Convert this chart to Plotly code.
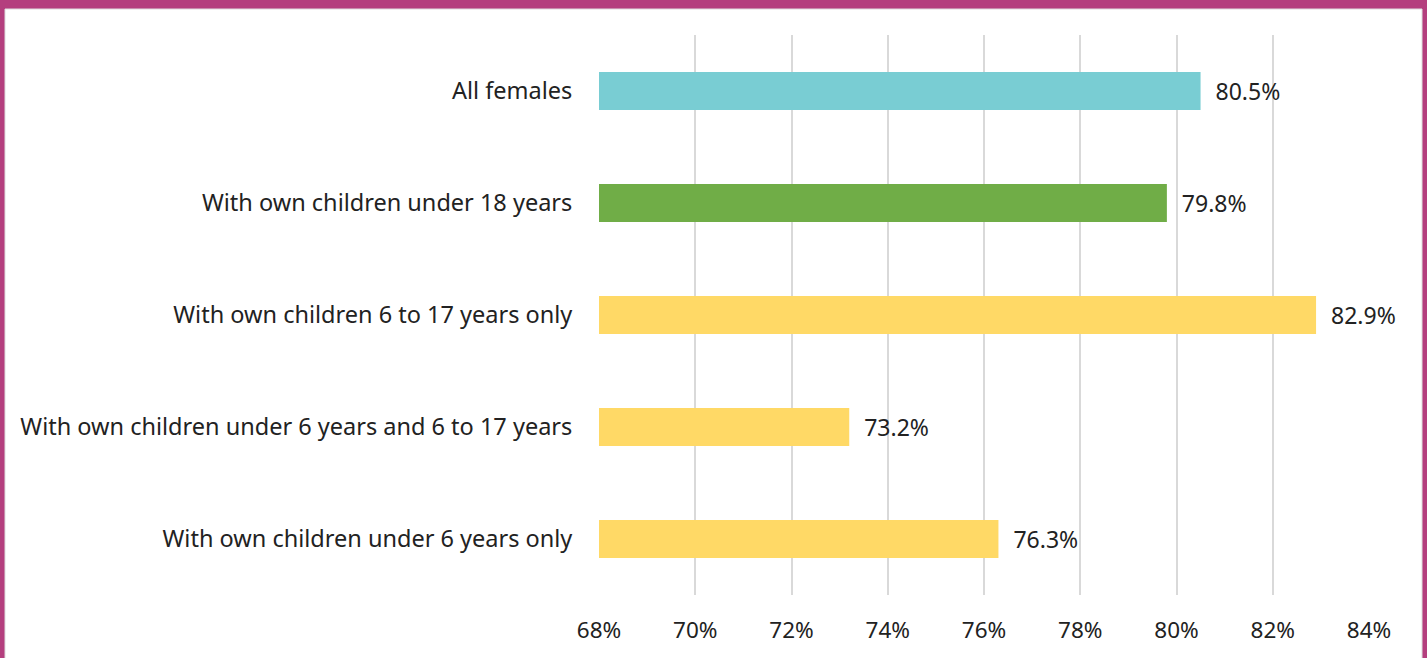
import plotly.graph_objects as go

categories = [
    "All females",
    "With own children under 18 years",
    "With own children 6 to 17 years only",
    "With own children under 6 years and 6 to 17 years",
    "With own children under 6 years only",
]
values = [80.5, 79.8, 82.9, 73.2, 76.3]
colors = ["#79CDD3", "#70AD47", "#FFD966", "#FFD966", "#FFD966"]
tick_vals = [68, 70, 72, 74, 76, 78, 80, 82, 84]
tick_text = ["68%", "70%", "72%", "74%", "76%", "78%", "80%", "82%", "84%"]
axis_start = 68

W, H = 1427, 658
L, R, T, B = 599, 1369, 35, 595

fig = go.Figure(go.Bar(
    y=categories,
    x=[v - axis_start for v in values],
    base=axis_start,
    orientation="h",
    marker=dict(color=colors, line=dict(width=0)),
    width=0.34,
    text=[f"{v:.1f}%" for v in values],
    texttemplate="  %{text}",
    textposition="outside",
    cliponaxis=False,
    hoverinfo="skip",
    textfont=dict(family="Noto Sans", size=23, color="#222222"),
))

def px_x(p):
    return (p - L) / (R - L)

def px_y(p):
    return (B - p) / (B - T)

fig.add_shape(type="rect", xref="paper", yref="paper",
              x0=px_x(5), x1=px_x(1422), y0=px_y(700), y1=px_y(9),
              fillcolor="white", line=dict(color="#DDDDDD", width=1), layer="below")

fig.update_layout(
    width=W, height=H,
    margin=dict(l=L, r=W - R, t=T, b=H - B, pad=0),
    paper_bgcolor="#B43F7E",
    plot_bgcolor="rgba(0,0,0,0)",
    showlegend=False,
    xaxis=dict(
        range=[68, 84],
        tickvals=tick_vals,
        ticktext=tick_text,
        showgrid=True,
        gridcolor="#D9D9D9",
        gridwidth=1.5,
        zeroline=False,
        showline=False,
        automargin=False,
        ticks="outside",
        ticklen=15,
        tickcolor="rgba(0,0,0,0)",
        tickfont=dict(family="Noto Sans", size=22.5, color="#222222"),
    ),
    yaxis=dict(
        categoryorder="array",
        categoryarray=categories,
        range=[4.5, -0.5],
        autorange=False,
        automargin=False,
        showgrid=False,
        zeroline=False,
        showline=False,
        ticks="outside",
        ticklen=21,
        tickcolor="rgba(0,0,0,0)",
        tickfont=dict(family="Noto Sans", size=23.5, color="#222222"),
    ),
)

fig.write_html("out.html", config={"displayModeBar": False},
               post_script="document.body.style.margin='0';document.body.style.overflow='hidden';")
